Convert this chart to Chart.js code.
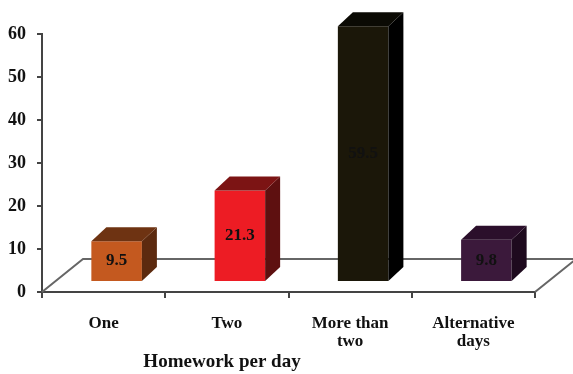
<!DOCTYPE html>
<html>
<head>
<meta charset="utf-8">
<script src="https://cdn.jsdelivr.net/npm/chart.js@4"></script>
<style>
    html, body { margin: 0; padding: 0; background: #fff; }
    #wrap { width: 573px; height: 374px; }
</style>
</head>
<body>
<div id="wrap"><canvas id="grafico"></canvas></div>
<script>
const categorias = [["One"], ["Two"], ["More than", "two"], ["Alternative", "days"]];
const valores = [9.5, 21.3, 59.5, 9.8];
const yTicks = [0, 10, 20, 30, 40, 50, 60];
const tituloX = "Homework per day";

const corFrente = ["#c4591f", "#ed1c24", "#1b1709", "#3b193b"];
const corLado = ["#5c2a0f", "#5e1010", "#000000", "#1e0a1e"];
const corTopo = ["#6e3312", "#7c1414", "#0b0a04", "#2b0f2b"];

const FONTE = "'Liberation Serif', 'Times New Roman', serif";

// deslocamento das barras dentro do "piso" e profundidade
const BX = 13, BY = -10;
const DX = 15, DY = -14;
const FX = 41, FY = -33;

const plugin3d = {
    id: "plugin3d",
    beforeDatasetsDraw(chart) {
        const ctx = chart.ctx;
        const a = chart.chartArea;
        ctx.save();
        ctx.strokeStyle = "#666";
        ctx.lineWidth = 2;
        ctx.beginPath();
        ctx.moveTo(a.left, a.bottom);
        ctx.lineTo(a.left + FX, a.bottom + FY);
        ctx.lineTo(a.right + FX, a.bottom + FY);
        ctx.lineTo(a.right, a.bottom);
        ctx.stroke();
        ctx.restore();
    },
    beforeDatasetDraw(chart) {
        chart.ctx.save();
        chart.ctx.translate(BX, BY);
    },
    afterDatasetDraw(chart) {
        chart.ctx.restore();
    },
    afterDatasetsDraw(chart) {
        const ctx = chart.ctx;
        const meta = chart.getDatasetMeta(0);
        ctx.save();
        ctx.translate(BX, BY);
        meta.data.forEach((el, i) => {
            const l = el.x - el.width / 2;
            const r = el.x + el.width / 2;
            const t = el.y;
            const b = el.base;

            // lado
            ctx.fillStyle = corLado[i];
            ctx.beginPath();
            ctx.moveTo(r, t);
            ctx.lineTo(r + DX, t + DY);
            ctx.lineTo(r + DX, b + DY);
            ctx.lineTo(r, b);
            ctx.closePath();
            ctx.fill();

            // topo
            ctx.fillStyle = corTopo[i];
            ctx.beginPath();
            ctx.moveTo(l, t);
            ctx.lineTo(l + DX, t + DY);
            ctx.lineTo(r + DX, t + DY);
            ctx.lineTo(r, t);
            ctx.closePath();
            ctx.fill();

            // valor
            ctx.fillStyle = "#111";
            ctx.font = "bold 17px " + FONTE;
            ctx.textAlign = "center";
            ctx.textBaseline = "middle";
            ctx.fillText(String(valores[i]), el.x, (t + b) / 2);
        });
        ctx.restore();

        // titulo do eixo x
        ctx.save();
        ctx.fillStyle = "#111";
        ctx.font = "bold 19px " + FONTE;
        ctx.textAlign = "center";
        ctx.textBaseline = "middle";
        ctx.fillText(tituloX, 222, 362);
        ctx.restore();
    }
};

new Chart(document.getElementById("grafico"), {
    type: "bar",
    data: {
        labels: categorias,
        datasets: [{
            data: valores,
            backgroundColor: corFrente,
            borderWidth: 0,
            categoryPercentage: 1,
            barPercentage: 0.41
        }]
    },
    options: {
        responsive: true,
        maintainAspectRatio: false,
        animation: false,
        layout: { padding: { top: 34, right: 38, left: 0, bottom: 0 } },
        plugins: {
            legend: { display: false },
            tooltip: { enabled: false }
        },
        scales: {
            x: {
                grid: {
                    drawOnChartArea: false,
                    drawTicks: true,
                    tickLength: 6,
                    color: "#444",
                    lineWidth: 2
                },
                border: { color: "#444", width: 2 },
                ticks: {
                    color: "#111",
                    padding: 17,
                    maxRotation: 0,
                    font: { family: FONTE, size: 17, weight: "bold", lineHeight: "18px" }
                },
                afterFit(scale) { scale.height = 82; }
            },
            y: {
                min: 0,
                max: 60,
                afterBuildTicks(scale) {
                    scale.ticks = yTicks.map(v => ({ value: v }));
                },
                grid: {
                    drawOnChartArea: false,
                    drawTicks: true,
                    tickLength: 5,
                    color: "#444",
                    lineWidth: 2
                },
                border: { color: "#444", width: 2 },
                ticks: {
                    color: "#111",
                    padding: 11,
                    font: { family: FONTE, size: 18, weight: "bold" }
                },
                afterFit(scale) { scale.width = 42; }
            }
        }
    },
    plugins: [plugin3d]
});
</script>
</body>
</html>
